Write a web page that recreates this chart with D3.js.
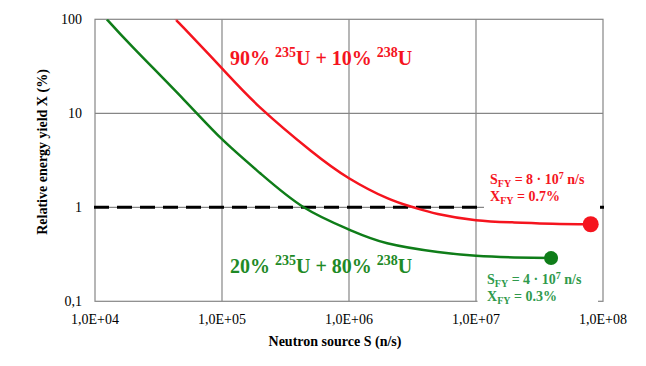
<!DOCTYPE html>
<html><head><meta charset="utf-8">
<script src="https://cdn.jsdelivr.net/npm/d3@7"></script>
<style>body{margin:0;background:#fff}svg{display:block}text{font-family:"Liberation Serif","Times New Roman",serif}</style>
</head><body><svg id="c" width="646" height="366"></svg>
<script>
const xTicks = [1e4, 1e5, 1e6, 1e7, 1e8];
const xTickLabels = ["1,0E+04", "1,0E+05", "1,0E+06", "1,0E+07", "1,0E+08"];
const yTicks = [0.1, 1, 10, 100];
const yTickLabels = ["0,1", "1", "10", "100"];
const redS = [4.3e4, 5e4, 1e5, 2e5, 5e5, 1e6, 2e6, 3.2e6, 5e6, 1e7, 2e7, 4e7, 8e7];
const redX = [100, 81, 30, 11.5, 4.0, 2.04, 1.25, 1.0, 0.85, 0.73, 0.69, 0.668, 0.66];
const greenS = [1.24e4, 2e4, 5e4, 1e5, 2e5, 4.4e5, 1e6, 2e6, 5e6, 1e7, 2e7, 3.9e7];
const greenX = [100, 50, 14, 5.3, 2.3, 1.0, 0.58, 0.415, 0.335, 0.305, 0.293, 0.288];
const redEnd = [8e7, 0.66];
const greenEnd = [3.9e7, 0.288];
const threshold = 1;

const svg = d3.select("#c");
const L = 95, R = 603, T = 19.3, B = 301.3;
const x = d3.scaleLog().domain([1e4, 1e8]).range([L, R]);
const y = d3.scaleLog().domain([0.1, 100]).range([B, T]);
const grid = "#868686", RED = "#f5141e", GREEN = "#0f7d19", GTXT = "#1e8a26", GANN = "#2f9a4c";

// gridlines
svg.append("g").selectAll("line.v").data(xTicks.slice(1, -1)).join("line")
  .attr("x1", d => x(d)).attr("x2", d => x(d)).attr("y1", T).attr("y2", B)
  .attr("stroke", grid).attr("stroke-width", 1.2);
svg.append("g").selectAll("line.h").data(yTicks.slice(1, -1)).join("line")
  .attr("x1", L).attr("x2", R).attr("y1", d => y(d)).attr("y2", d => y(d))
  .attr("stroke", grid).attr("stroke-width", 1.2);
svg.append("rect").attr("x", L).attr("y", T).attr("width", R - L).attr("height", B - T)
  .attr("fill", "none").attr("stroke", grid).attr("stroke-width", 1.2);

// threshold dashed line
svg.append("line").attr("x1", L - 1).attr("x2", R + 1).attr("y1", y(threshold)).attr("y2", y(threshold))
  .attr("stroke", "#000").attr("stroke-width", 3).attr("stroke-dasharray", "15,8");

// annotation boxes
svg.append("rect").attr("x", 484).attr("y", 166).attr("width", 116).attr("height", 44).attr("fill", "#fff");
svg.append("rect").attr("x", 477.5).attr("y", 270).attr("width", 120.5).attr("height", 40).attr("fill", "#fff");

// tick labels
svg.append("g").selectAll("text").data(xTicks).join("text")
  .attr("x", d => x(d)).attr("y", 324).attr("text-anchor", "middle")
  .attr("font-size", 14).attr("fill", "#000").text((d, i) => xTickLabels[i]);
svg.append("g").selectAll("text").data(yTicks).join("text")
  .attr("x", 82).attr("y", d => y(d) + 5).attr("text-anchor", "end")
  .attr("font-size", 14).attr("fill", "#000").text((d, i) => yTickLabels[i]);

// axis titles
svg.append("text").attr("x", 335).attr("y", 346).attr("text-anchor", "middle")
  .attr("font-size", 14).attr("font-weight", "bold").attr("fill", "#000").text("Neutron source S (n/s)");
svg.append("text").attr("transform", "translate(47,152) rotate(-90)").attr("text-anchor", "middle")
  .attr("font-size", 14).attr("font-weight", "bold").attr("fill", "#000").text("Relative energy yield X (%)");

// curves
svg.append("clipPath").attr("id", "pc").append("rect").attr("x", L).attr("y", T).attr("width", R - L).attr("height", B - T);
const line = d3.line().x(d => x(d[0])).y(d => y(d[1])).curve(d3.curveNatural);
svg.append("path").attr("clip-path", "url(#pc)").attr("d", line(redS.map((s, i) => [s, redX[i]])))
  .attr("fill", "none").attr("stroke", RED).attr("stroke-width", 2.5);
svg.append("path").attr("clip-path", "url(#pc)").attr("d", line(greenS.map((s, i) => [s, greenX[i]])))
  .attr("fill", "none").attr("stroke", GREEN).attr("stroke-width", 2.5);
svg.append("circle").attr("cx", x(redEnd[0])).attr("cy", y(redEnd[1])).attr("r", 8).attr("fill", RED);
svg.append("circle").attr("cx", x(greenEnd[0])).attr("cy", y(greenEnd[1])).attr("r", 7).attr("fill", GREEN);

// series labels
function seriesLabel(px, py, a, b, color) {
  const t = svg.append("text").attr("x", px).attr("y", py).attr("font-size", 20)
    .attr("font-weight", "bold").attr("fill", color);
  t.append("tspan").text(a + "% ");
  t.append("tspan").attr("font-size", 14).attr("dy", -8).text("235");
  t.append("tspan").attr("dy", 8).text("U + " + b + "% ");
  t.append("tspan").attr("font-size", 14).attr("dy", -8).text("238");
  t.append("tspan").attr("dy", 8).text("U");
}
seriesLabel(230, 65, 90, 10, RED);
seriesLabel(230, 273, 20, 80, GTXT);

// annotations
function annot(px, py, mant, exp, pct, color) {
  const t1 = svg.append("text").attr("x", px).attr("y", py).attr("font-size", 14)
    .attr("font-weight", "bold").attr("fill", color);
  t1.append("tspan").text("S");
  t1.append("tspan").attr("font-size", 10).attr("dy", 3).text("FY");
  t1.append("tspan").attr("dy", -3).text(" = " + mant + " · 10");
  t1.append("tspan").attr("font-size", 10).attr("dy", -5).text(exp);
  t1.append("tspan").attr("dy", 5).text(" n/s");
  const t2 = svg.append("text").attr("x", px).attr("y", py + 17).attr("font-size", 14)
    .attr("font-weight", "bold").attr("fill", color);
  t2.append("tspan").text("X");
  t2.append("tspan").attr("font-size", 10).attr("dy", 3).text("FY");
  t2.append("tspan").attr("dy", -3).text(" = " + pct + "%");
}
annot(490, 184, "8", "7", "0.7", RED);
annot(487, 284, "4", "7", "0.3", GANN);
</script></body></html>
